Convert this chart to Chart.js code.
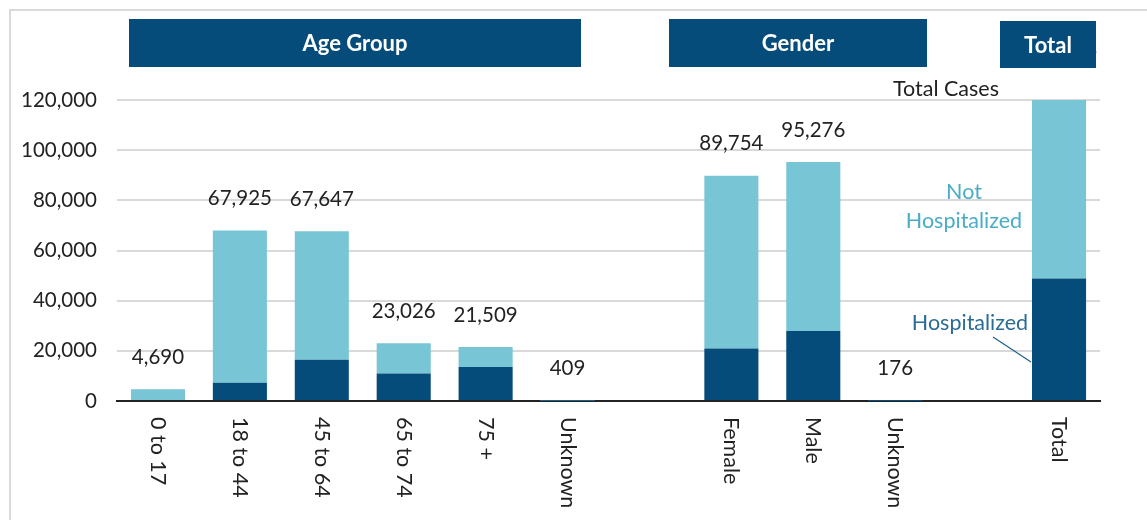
<!DOCTYPE html>
<html>
<head>
<meta charset="utf-8">
<script src="https://cdn.jsdelivr.net/npm/chart.js@4.4.1/dist/chart.umd.min.js"></script>
<style>
  html, body { margin: 0; padding: 0; background: #ffffff; }
  #wrap { position: relative; width: 1147px; height: 520px; }
</style>
</head>
<body>
<div id="wrap"><canvas id="casesChart" width="1147" height="520"></canvas></div>
<script>
// ------------------- Data -------------------
const categories = ["0 to 17", "18 to 44", "45 to 64", "65 to 74", "75 +", "Unknown", "",
                    "Female", "Male", "Unknown", "", "Total"];
const totalCases = [4690, 67925, 67647, 23026, 21509, 409, null,
                    89754, 95276, 176, null, 185206];
const hospitalized = [350, 7300, 16400, 11000, 13600, 60, null,
                      20900, 27900, 30, null, 48800];
const notHospitalized = totalCases.map((t, i) => t === null ? null : t - hospitalized[i]);
const yTicks = [0, 20000, 40000, 60000, 80000, 100000, 120000];

const DARK = "#054c7b";
const LIGHT = "#78c5d5";
const FONT = "Lato, 'Open Sans', sans-serif";

// ------------------- Helper plugin: labels, headers, notes -------------------
const decorations = {
  id: "decorations",
  afterDatasetsDraw(chart) {
    const ctx = chart.ctx;
    const x = chart.scales.x;
    const y = chart.scales.y;
    const yMax = y.max;

    ctx.save();
    // frame lines
    ctx.strokeStyle = "#d9d9d9";
    ctx.lineWidth = 2;
    ctx.beginPath();
    ctx.moveTo(10, 520); ctx.lineTo(10, 10); ctx.lineTo(1147, 10);
    ctx.stroke();

    // value labels above bars
    ctx.fillStyle = "#222";
    ctx.font = "20.5px " + FONT;
    ctx.textAlign = "center";
    ctx.textBaseline = "middle";
    totalCases.forEach((v, i) => {
      if (v === null) return;
      const px = x.getPixelForValue(i);
      const top = y.getPixelForValue(Math.min(v, yMax));
      const off = v > yMax ? 50 : 32;
      ctx.fillText(v.toLocaleString("en-US"), px, top - off);
    });

    // category labels (rotated, reading downwards)
    ctx.font = "21.5px " + FONT;
    ctx.fillStyle = "#222";
    ctx.textAlign = "left";
    categories.forEach((c, i) => {
      if (!c) return;
      const px = x.getPixelForValue(i);
      ctx.save();
      ctx.translate(px, 417);
      ctx.rotate(Math.PI / 2);
      ctx.fillText(c, 0, 0);
      ctx.restore();
    });

    // group header boxes
    const headers = [
      { text: "Age Group", x0: 129, x1: 581, y0: 19, y1: 67 },
      { text: "Gender", x0: 669, x1: 927, y0: 19, y1: 67 },
      { text: "Total", x0: 1000, x1: 1096, y0: 21, y1: 68 },
    ];
    headers.forEach((h) => {
      ctx.fillStyle = DARK;
      ctx.fillRect(h.x0, h.y0, h.x1 - h.x0, h.y1 - h.y0);
      ctx.fillStyle = "#ffffff";
      ctx.font = "bold 22px " + FONT;
      ctx.textAlign = "center";
      ctx.fillText(h.text, (h.x0 + h.x1) / 2, (h.y0 + h.y1) / 2 + 1);
    });

    // series notes
    ctx.font = "21.5px " + FONT;
    ctx.textAlign = "center";
    ctx.fillStyle = "#ffffff";
    ctx.fillRect(888, 78, 118, 21);
    ctx.fillStyle = "#222";
    ctx.fillText("Total Cases", 946, 89);

    ctx.fillStyle = "#4bacc6";
    ctx.fillText("Not", 964, 192);
    ctx.fillText("Hospitalized", 964, 221);

    ctx.fillStyle = "#ffffff";
    ctx.fillRect(908, 310, 123, 26);
    ctx.fillStyle = "#2a6b97";
    ctx.fillText("Hospitalized", 970, 323);

    ctx.strokeStyle = "#1f5f8b";
    ctx.lineWidth = 1.2;
    ctx.beginPath();
    ctx.moveTo(993, 337);
    ctx.lineTo(1031, 362);
    ctx.stroke();
    ctx.restore();
  },
};

// ------------------- Chart -------------------
new Chart(document.getElementById("casesChart"), {
  type: "bar",
  data: {
    labels: categories,
    datasets: [
      {
        label: "Hospitalized",
        data: hospitalized,
        backgroundColor: DARK,
        categoryPercentage: 1,
        barPercentage: 0.66,
      },
      {
        label: "Not Hospitalized",
        data: notHospitalized,
        backgroundColor: LIGHT,
        categoryPercentage: 1,
        barPercentage: 0.66,
      },
    ],
  },
  options: {
    responsive: false,
    animation: false,
    layout: { padding: { left: 0, top: 100, right: 47, bottom: 119 } },
    plugins: {
      legend: { display: false },
      tooltip: { enabled: false },
    },
    scales: {
      x: {
        stacked: true,
        ticks: { display: false },
        grid: { display: false },
        border: { color: "#222", width: 2 },
        afterFit: (scale) => { scale.height = 0; },
      },
      y: {
        stacked: true,
        min: 0,
        max: 120000,
        afterBuildTicks: (scale) => { scale.ticks = yTicks.map((v) => ({ value: v })); },
        afterFit: (scale) => { scale.width = 117; },
        ticks: {
          color: "#222",
          font: { family: FONT, size: 20.5 },
          padding: 20,
          callback: (v) => v.toLocaleString("en-US"),
        },
        grid: { color: "#d9d9d9", lineWidth: 2, drawTicks: false },
        border: { display: false },
      },
    },
  },
  plugins: [decorations],
});
</script>
</body>
</html>
